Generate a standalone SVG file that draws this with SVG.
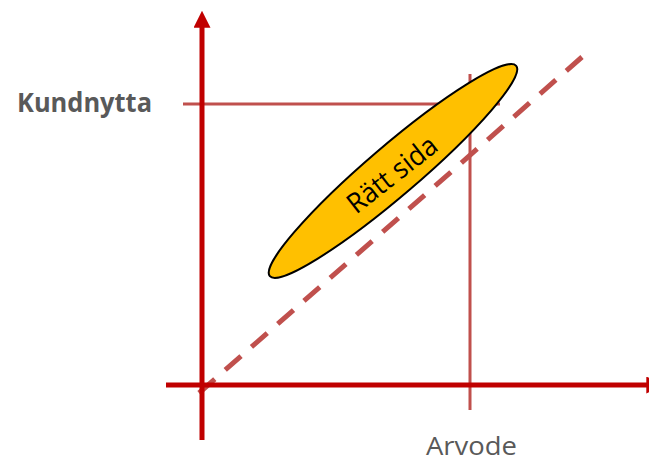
<svg xmlns="http://www.w3.org/2000/svg" width="649" height="461" viewBox="0 0 649 461">
<style>
.axis{stroke:#C00000;stroke-width:5;fill:none}
.guide{stroke:#C0504D;stroke-width:3;fill:none}
.diag{stroke:#C0504D;stroke-width:5;fill:none;stroke-dasharray:21 13.9}
.lbl{font-family:"Open Sans","Liberation Sans",sans-serif;fill:#595959}
</style>
<defs>
<marker id="ah" viewBox="0 0 10 10" refX="1" refY="5" markerWidth="3.4" markerHeight="3.4" orient="auto" markerUnits="strokeWidth">
<path d="M0,0 L10,5 L0,10 Z" fill="#C00000"/>
</marker>
</defs>
<g id="connectors">
<line class="guide" x1="183" y1="104" x2="500" y2="104"/>
<line class="guide" x1="470" y1="74" x2="470" y2="410"/>
<line class="diag" x1="199" y1="393" x2="582" y2="57"/>
<line class="axis" x1="166" y1="385" x2="648" y2="385" marker-end="url(#ah)"/>
<line class="axis" x1="202" y1="440" x2="202" y2="26" marker-end="url(#ah)"/>
</g>
<g id="ellipse">
<ellipse cx="393" cy="171" rx="162" ry="25" transform="rotate(-40.5 393 171)" fill="#FFC000" stroke="#000" stroke-width="2"/>
<text x="398" y="182" transform="rotate(-38 398 182)" text-anchor="middle" font-family="'Open Sans','Liberation Sans',sans-serif" font-size="28" fill="#000" textLength="106" lengthAdjust="spacingAndGlyphs">Rätt sida</text>
</g>
<g id="ylabel">
<text class="lbl" x="17" y="112" font-size="26" font-weight="bold" textLength="135" lengthAdjust="spacingAndGlyphs">Kundnytta</text>
</g>
<g id="xlabel">
<text class="lbl" x="426" y="455" font-size="25" textLength="91" lengthAdjust="spacingAndGlyphs">Arvode</text>
</g>
</svg>
